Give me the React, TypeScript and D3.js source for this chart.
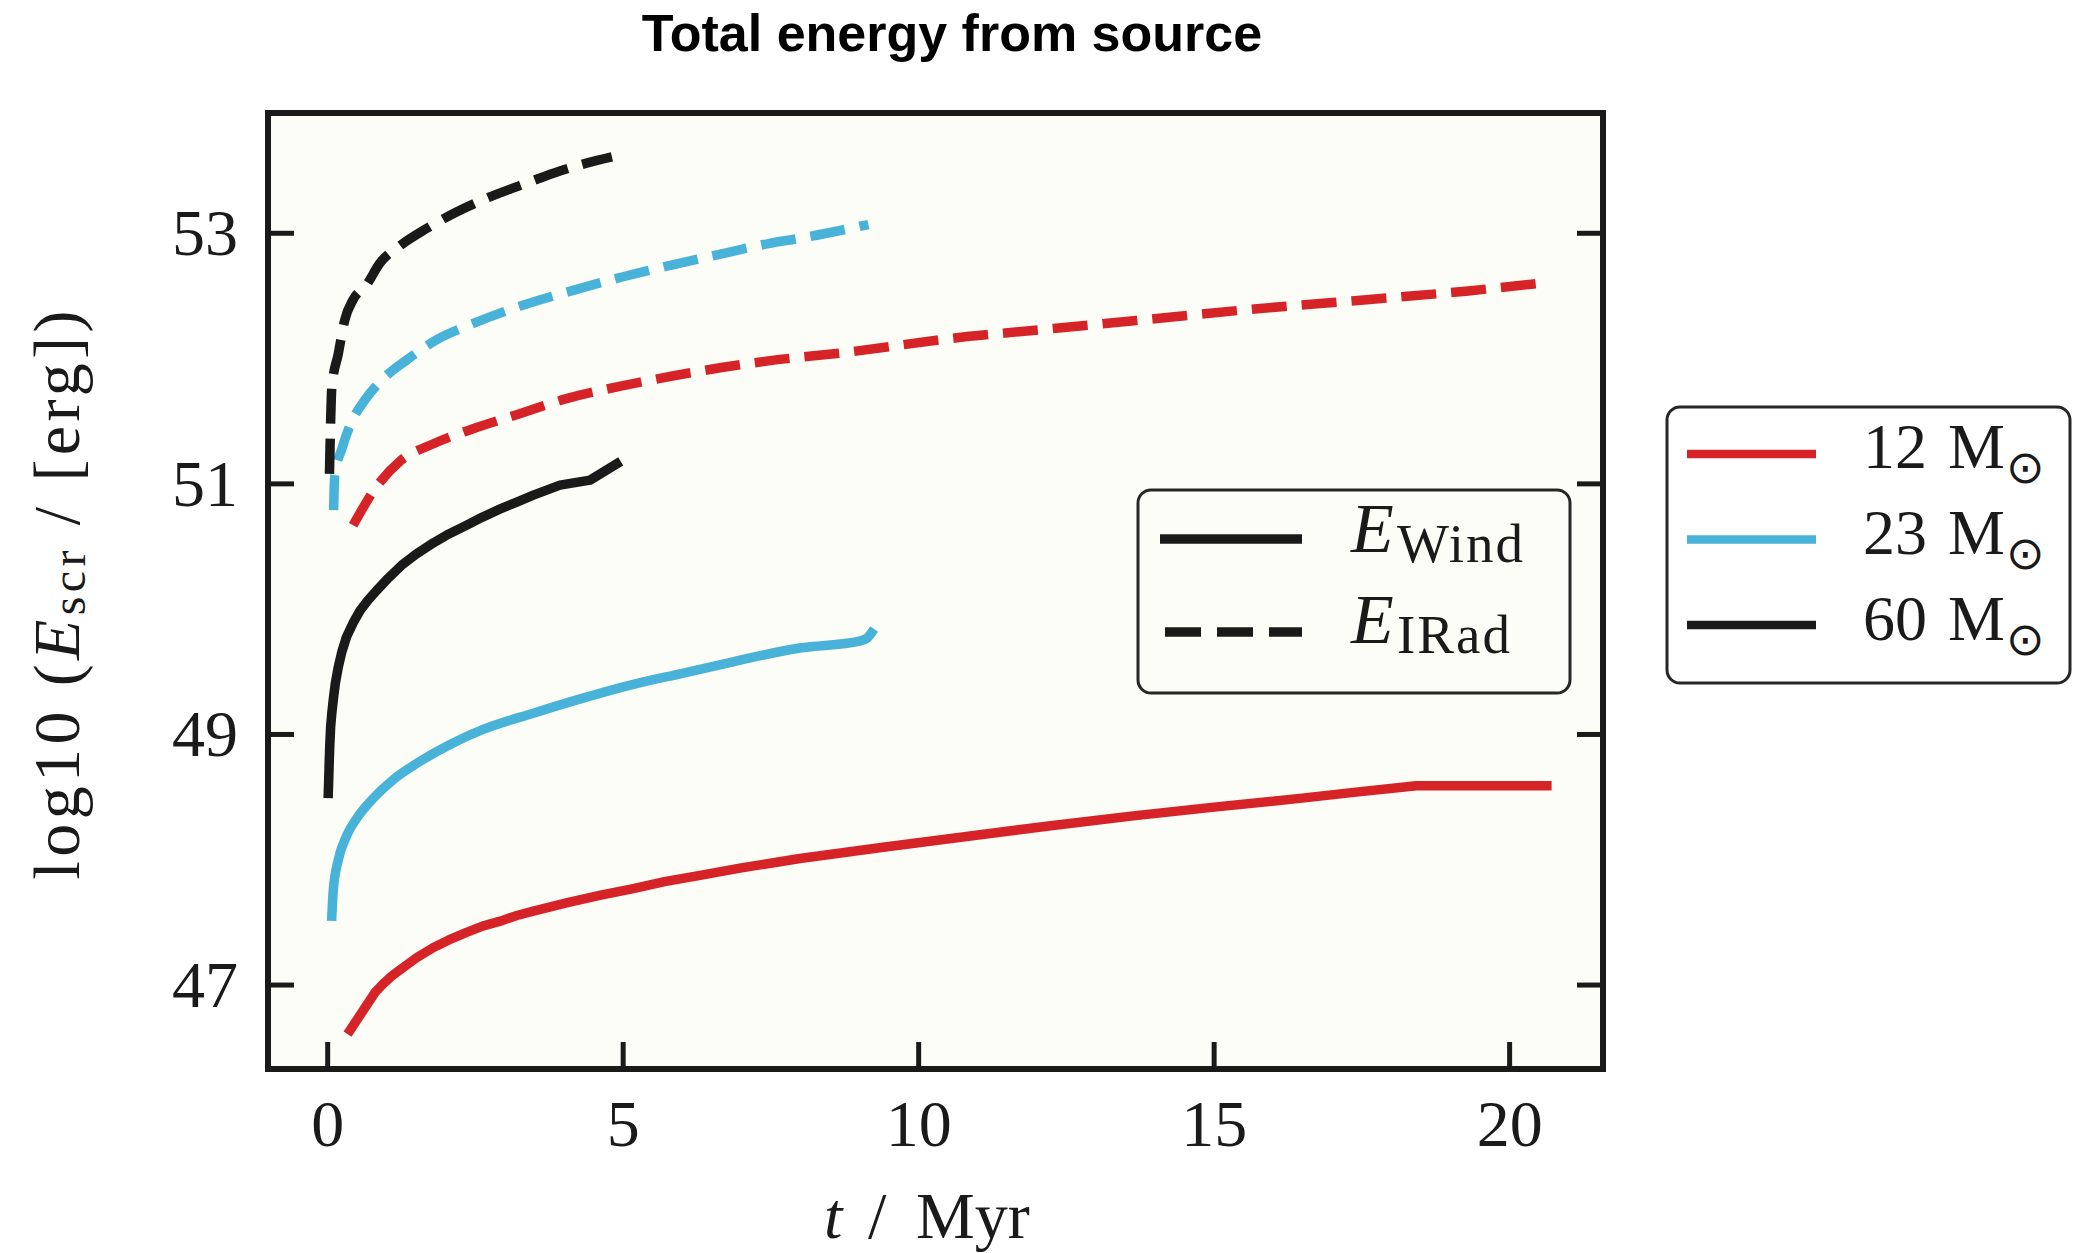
import React from 'react';
import * as d3 from 'd3';

// axis ticks
const xTicks = [0, 5, 10, 15, 20];
const yTicks = [47, 49, 51, 53];

// E_Wind, [t (Myr), log10 E]
const wind12 = [[0.38, 46.64], [0.8, 46.94], [0.94, 47.01], [1.08, 47.07], [1.22, 47.12], [1.51, 47.22], [1.79, 47.3], [2.05, 47.36], [2.35, 47.42], [2.62, 47.47], [2.92, 47.51], [3.2, 47.555], [3.48, 47.59], [4.04, 47.655], [4.6, 47.715], [5.17, 47.77], [5.7, 47.825], [6.3, 47.875], [7.0, 47.935], [7.99, 48.01], [9.4, 48.1], [10.81, 48.185], [12.2, 48.27], [13.63, 48.35], [15.0, 48.42], [16.45, 48.49], [17.4, 48.54], [18.42, 48.59], [20.63, 48.59]];
const wind23 = [[0.07, 47.55], [0.095, 47.76], [0.18, 48.0], [0.32, 48.19], [0.52, 48.35], [0.77, 48.49], [1.11, 48.64], [1.51, 48.77], [2.07, 48.92], [2.63, 49.04], [3.48, 49.17], [4.32, 49.29], [5.17, 49.4], [6.02, 49.49], [6.86, 49.58], [7.99, 49.69], [9.0, 49.745], [9.13, 49.77], [9.2, 49.81]];
const wind60 = [[0.01, 48.53], [0.02, 48.68], [0.027, 48.8], [0.037, 48.93], [0.05, 49.06], [0.07, 49.17], [0.095, 49.28], [0.13, 49.41], [0.18, 49.54], [0.24, 49.66], [0.32, 49.78], [0.43, 49.89], [0.55, 49.99], [0.68, 50.07], [0.83, 50.15], [1.03, 50.25], [1.25, 50.35], [1.5, 50.44], [1.79, 50.53], [2.05, 50.6], [2.35, 50.67], [2.62, 50.735], [2.92, 50.8], [3.2, 50.855], [3.48, 50.91], [3.93, 50.99], [4.44, 51.03], [4.89, 51.16]];

// E_IRad
const irad12 = [[0.43, 50.67], [0.83, 50.98], [1.22, 51.18], [1.79, 51.32], [2.46, 51.44], [3.25, 51.56], [4.04, 51.68], [5.17, 51.8], [6.3, 51.9], [7.43, 51.98], [8.78, 52.05], [10.53, 52.16], [12.28, 52.24], [14.03, 52.32], [15.78, 52.4], [17.58, 52.47], [19.3, 52.54], [20.5, 52.6]];
const irad23 = [[0.1, 50.79], [0.12, 51.07], [0.24, 51.28], [0.38, 51.47], [0.63, 51.67], [0.94, 51.84], [1.34, 51.99], [1.84, 52.15], [2.41, 52.27], [3.2, 52.41], [4.04, 52.53], [4.89, 52.64], [5.76, 52.74], [6.61, 52.83], [7.48, 52.92], [7.99, 52.96], [9.15, 53.07]];
const irad60 = [[0.03, 51.08], [0.05, 51.5], [0.07, 51.77], [0.18, 52.04], [0.29, 52.31], [0.43, 52.47], [0.66, 52.59], [0.88, 52.76], [1.22, 52.9], [1.68, 53.04], [2.18, 53.17], [2.69, 53.28], [3.25, 53.38], [3.82, 53.48], [4.38, 53.56], [4.81, 53.61]];

const masses = ['12', '23', '60'];
const colors = ['#d62328', '#48b2d8', '#1a1a1a'];

const serif = '"Liberation Serif", "DejaVu Serif", serif';
const bg = '#fdfdf7';

export default function App() {
  const left = 268, right = 1603, top = 113, bottom = 1069;
  const x = d3.scaleLinear().domain([-1.01, 21.58]).range([left, right]);
  const y = d3.scaleLinear().domain([46.33, 53.96]).range([bottom, top]);
  const smooth = d3.line<number[]>()
    .x(d => x(d[0]))
    .y(d => y(d[1]))
    .curve(d3.curveMonotoneX);
  // series with sharp breaks are drawn point to point
  const straight = d3.line<number[]>()
    .x(d => x(d[0]))
    .y(d => y(d[1]));

  const series = [
    { d: wind12, c: colors[0], dash: false, gen: straight },
    { d: wind23, c: colors[1], dash: false, gen: smooth },
    { d: wind60, c: colors[2], dash: false, gen: straight },
    { d: irad12, c: colors[0], dash: true, gen: smooth },
    { d: irad23, c: colors[1], dash: true, gen: smooth },
    { d: irad60, c: colors[2], dash: true, gen: smooth },
  ];

  const lw = 9.5;

  return (
    <div style={{ position: 'absolute', left: 0, top: 0 }}>
      <svg width={2074} height={1253} style={{ display: 'block', background: '#fff' }}>
        <text x={952} y={51} textAnchor="middle" fontFamily='"Liberation Sans", Arial, sans-serif'
          fontWeight="bold" fontSize={52}>Total energy from source</text>

        <rect x={left} y={top} width={right - left} height={bottom - top} fill={bg} />

        {series.map((s, i) => (
          <path key={i} d={s.gen(s.d) || ''} fill="none" stroke={s.c} strokeWidth={lw}
            strokeDasharray={s.dash ? '35,15' : undefined}
            strokeLinecap={s.dash ? 'butt' : 'square'} strokeLinejoin="round" />
        ))}

        {/* ticks */}
        {yTicks.map(t => (
          <g key={'y' + t}>
            <line x1={left} x2={left + 26} y1={y(t)} y2={y(t)} stroke="#1a1a1a" strokeWidth={5} />
            <line x1={right - 26} x2={right} y1={y(t)} y2={y(t)} stroke="#1a1a1a" strokeWidth={5} />
            <text x={238} y={y(t) + 22} textAnchor="end" fontFamily={serif} fontSize={66} fill="#1a1a1a">{t}</text>
          </g>
        ))}
        {xTicks.map(t => (
          <g key={'x' + t}>
            <line x1={x(t)} x2={x(t)} y1={bottom} y2={bottom - 27} stroke="#1a1a1a" strokeWidth={5} />
            <text x={x(t)} y={1146} textAnchor="middle" fontFamily={serif} fontSize={66} fill="#1a1a1a">{t}</text>
          </g>
        ))}

        <rect x={left} y={top} width={right - left} height={bottom - top} fill="none" stroke="#1a1a1a" strokeWidth={6} />

        {/* axis labels */}
        <text x={824} y={1238} fontFamily={serif} fontSize={66} fill="#1a1a1a">
          <tspan fontStyle="italic">t</tspan>
          <tspan x={868}>/</tspan>
          <tspan x={916}>Myr</tspan>
        </text>
        <text transform="translate(79,595) rotate(-90)" textAnchor="middle" fontFamily={serif}
          fontSize={66} fill="#1a1a1a" textLength={569}>
          log10 (<tspan fontStyle="italic">E</tspan><tspan fontSize={48} dy={6}>scr</tspan><tspan dy={-6}> / [erg])</tspan>
        </text>

        {/* line-style legend */}
        <rect x={1138} y={490} width={432} height={203} rx={13} fill={bg} stroke="#262626" strokeWidth={3} />
        <line x1={1160} x2={1302} y1={539} y2={539} stroke="#1a1a1a" strokeWidth={lw} />
        <line x1={1165} x2={1302} y1={632} y2={632} stroke="#1a1a1a" strokeWidth={lw} strokeDasharray="36,16" />
        <text x={1351} y={552} fontFamily={serif} fontSize={70} fill="#1a1a1a">
          <tspan fontStyle="italic">E</tspan>
          <tspan x={1397} dy={10} fontSize={55} letterSpacing={2}>Wind</tspan>
        </text>
        <text x={1351} y={643} fontFamily={serif} fontSize={70} fill="#1a1a1a">
          <tspan fontStyle="italic">E</tspan>
          <tspan x={1397} dy={10} fontSize={55} letterSpacing={2}>IRad</tspan>
        </text>

        {/* mass legend */}
        <rect x={1667} y={407} width={403} height={276} rx={13} fill="#fff" stroke="#262626" strokeWidth={3} />
        {masses.map((m, i) => {
          const ly = 454 + i * 85.5;
          const by = 468 + i * 86;
          return (
            <g key={m}>
              <line x1={1687} x2={1816} y1={ly} y2={ly} stroke={colors[i]} strokeWidth={8.5} />
              <text x={1863} y={by} fontFamily={serif} fontSize={64} fill="#1a1a1a">
                {m}
                <tspan x={1948}>M</tspan>
                <tspan x={2006} dy={15} fontSize={46} fontFamily='"DejaVu Sans", sans-serif'>⊙</tspan>
              </text>
            </g>
          );
        })}
      </svg>
    </div>
  );
}
